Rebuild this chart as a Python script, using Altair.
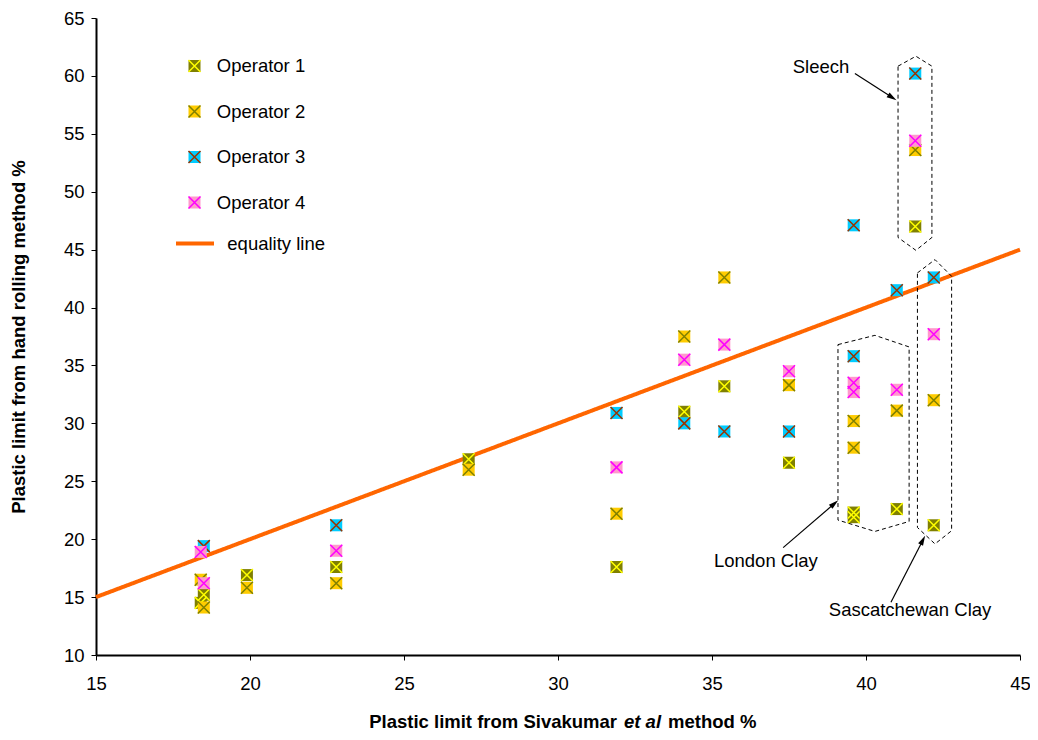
import math
import altair as alt
import pandas as pd

FONT = "Liberation Sans"
FS = 18.5

# ---------------- data ----------------
op_names = ["Operator 1", "Operator 2", "Operator 3", "Operator 4"]
op1_x = [18.4, 18.5, 19.9, 22.8, 27.1, 31.9, 34.1, 35.4, 37.5, 39.6, 39.6, 41.0, 41.6, 42.2]
op1_y = [14.5, 15.2, 16.9, 17.6, 26.9, 17.6, 31.0, 33.2, 26.6, 22.3, 21.9, 22.6, 47.0, 21.2]
op2_x = [18.4, 18.5, 19.9, 22.8, 27.1, 31.9, 34.1, 35.4, 37.5, 39.6, 39.6, 41.0, 41.6, 42.2]
op2_y = [16.5, 14.1, 15.8, 16.2, 26.0, 22.2, 37.5, 42.6, 33.3, 30.2, 27.9, 31.1, 53.6, 32.0]
op3_x = [18.5, 22.8, 31.9, 34.1, 35.4, 37.5, 39.6, 39.6, 41.0, 41.6, 42.2]
op3_y = [19.4, 21.2, 30.9, 30.0, 29.3, 29.3, 35.8, 47.1, 41.5, 60.2, 42.6]
op4_x = [18.4, 18.5, 22.8, 31.9, 34.1, 35.4, 37.5, 39.6, 39.6, 41.0, 41.6, 42.2]
op4_y = [18.9, 16.2, 19.0, 26.2, 35.5, 36.8, 34.5, 33.5, 32.7, 32.9, 54.4, 37.7]

fill_colors = ["#808000", "#FFCC00", "#00CCFF", "#FF99CC"]
cross_colors = ["#FFFF00", "#808000", "#993300", "#FF00FF"]

equality_name = ["equality line", "equality line"]
equality_x = [15, 45]
equality_y = [15, 45]

box_sleech_x = [41.04, 41.62, 42.14, 42.14, 41.62, 41.04, 41.04]
box_sleech_y = [60.84, 61.70, 60.84, 46.05, 44.94, 46.05, 60.84]
box_london_x = [39.09, 40.29, 41.40, 41.40, 40.29, 39.09, 39.09]
box_london_y = [36.80, 37.60, 36.60, 21.53, 20.67, 21.65, 36.80]
box_sask_x = [41.67, 42.24, 42.78, 42.78, 42.24, 41.67, 41.67]
box_sask_y = [42.99, 44.14, 42.70, 20.73, 19.59, 21.01, 42.99]

label_text = ["Sleech", "London Clay", "Sascatchewan Clay"]
label_x = [38.54, 36.75, 41.43]
label_y = [60.75, 18.15, 13.90]

arrow_x1 = [39.64, 37.31, 40.81]
arrow_y1 = [60.21, 19.27, 14.55]
arrow_x2 = [40.99, 39.10, 41.92]
arrow_y2 = [57.90, 23.36, 20.30]

x_ticks = [15, 20, 25, 30, 35, 40, 45]
y_ticks = [10, 15, 20, 25, 30, 35, 40, 45, 50, 55, 60, 65]

xtitle_parts = ["Plastic limit from Sivakumar", "et al", "method %"]
y_title = "Plastic limit from hand rolling method %"

# ---------------- layout constants ----------------
W, H = 924, 637
X_DOMAIN = [15, 45]
Y_DOMAIN = [10, 65]
XPATH = "M-1,-1L1,1M-1,1L1,-1"
HEADPATH = "M0,-1L0.55,1L-0.55,1Z"
HEAD_SIZE = 100
HEAD_HALF = math.sqrt(HEAD_SIZE) / 2

# ---------------- tables ----------------
rows = []
for name, xs, ys in zip(op_names, [op1_x, op2_x, op3_x, op4_x], [op1_y, op2_y, op3_y, op4_y]):
    for xv, yv in zip(xs, ys):
        rows.append({"x": xv, "y": yv, "op": name, "opx": name})
pts = pd.DataFrame(rows)

line_df = pd.DataFrame({"x": equality_x, "y": equality_y, "series": equality_name})

brows = []
for bname, bx, by in [("Sleech", box_sleech_x, box_sleech_y),
                      ("London", box_london_x, box_london_y),
                      ("Sask", box_sask_x, box_sask_y)]:
    for i, (xv, yv) in enumerate(zip(bx, by)):
        brows.append({"box": bname, "i": i, "x": xv, "y": yv})
box_df = pd.DataFrame(brows)

label_df = pd.DataFrame({"label": label_text, "x": label_x, "y": label_y})

sx = W / (X_DOMAIN[1] - X_DOMAIN[0])
sy = H / (Y_DOMAIN[1] - Y_DOMAIN[0])
arows = []
for x1, y1, x2, y2 in zip(arrow_x1, arrow_y1, arrow_x2, arrow_y2):
    dx = (x2 - x1) * sx
    dy = (y2 - y1) * sy
    ln = math.hypot(dx, dy)
    ux, uy = dx / ln, dy / ln
    hx = x2 - ux * HEAD_HALF / sx
    hy = y2 - uy * HEAD_HALF / sy
    ang = math.degrees(math.atan2(ux, uy)) % 360
    arows.append({"x": x1, "y": y1, "x2": hx, "y2": hy, "hx": hx, "hy": hy, "ang": ang})
arrow_df = pd.DataFrame(arows)

# ---------------- encodings ----------------
x_axis = alt.Axis(values=x_ticks, title=None, format="d", grid=False,
                  labelFont=FONT, labelFontSize=FS, labelColor="black",
                  labelPadding=14, labelFlush=False, labelOverlap=False,
                  tickSize=5, tickColor="black", tickWidth=1,
                  domainColor="black", domainWidth=2)
y_axis = alt.Axis(values=y_ticks, title=y_title, format="d", grid=False,
                  labelFont=FONT, labelFontSize=FS, labelColor="black",
                  labelPadding=7, labelFlush=False, labelOverlap=False,
                  tickSize=5, tickColor="black", tickWidth=1,
                  domainColor="black", domainWidth=2,
                  titleFont=FONT, titleFontSize=FS, titleFontWeight="bold",
                  titleColor="black", titleAngle=270, titleAlign="center",
                  titleBaseline="middle", titleX=-78, titleY=H / 2)
xs_ = alt.Scale(domain=X_DOMAIN, nice=False, zero=False)
ys_ = alt.Scale(domain=Y_DOMAIN, nice=False, zero=False)


def X(f):
    return alt.X(f, scale=xs_, axis=x_axis)


def Y(f):
    return alt.Y(f, scale=ys_, axis=y_axis)


# domains come from the data (sorted Operator 1..4)
fill_scale = alt.Scale(range=fill_colors)
stroke_scale = alt.Scale(range=cross_colors)

common_leg = dict(title=None, orient="none", legendX=89.25, legendY=38.75,
                  labelFont=FONT, labelFontSize=FS, labelColor="black",
                  labelOffset=13, rowPadding=26.5, padding=0, symbolSize=144,
                  symbolOpacity=1)
sq_legend = alt.Legend(symbolType="square", symbolStrokeWidth=0, labelOpacity=0,
                       zindex=0, **common_leg)
x_legend = alt.Legend(symbolType=XPATH, symbolStrokeWidth=1.5, zindex=1,
                      **common_leg)
line_legend = alt.Legend(title=None, orient="none", legendX=78, legendY=204.5,
                         symbolType="stroke", symbolSize=1444, symbolStrokeWidth=4,
                         symbolStrokeColor="#FF6600", labelFont=FONT, labelFontSize=FS,
                         labelColor="black", labelOffset=11.3, padding=0)

layers = []
layers.append(
    alt.Chart(line_df).mark_line(color="#FF6600", strokeWidth=4).encode(
        x=X("x:Q"), y=Y("y:Q"),
        strokeDash=alt.StrokeDash("series:N", scale=alt.Scale(range=[[1, 0]]), legend=line_legend),
    )
)

for name in op_names:
    base = alt.Chart(pts).transform_filter(alt.datum.op == name)
    layers.append(
        base.mark_point(shape="square", filled=True, size=144, opacity=1, strokeWidth=0).encode(
            x=X("x:Q"), y=Y("y:Q"),
            fill=alt.Fill("op:N", scale=fill_scale, legend=sq_legend),
        )
    )
    layers.append(
        base.mark_point(shape=XPATH, filled=False, size=144, opacity=1, strokeWidth=1.5).encode(
            x=X("x:Q"), y=Y("y:Q"),
            stroke=alt.Stroke("opx:N", scale=stroke_scale, legend=x_legend),
        )
    )

layers.append(
    alt.Chart(box_df).mark_line(color="black", strokeWidth=1, strokeDash=[4, 3]).encode(
        x=X("x:Q"), y=Y("y:Q"), detail="box:N", order="i:Q"
    )
)
layers.append(
    alt.Chart(arrow_df).mark_rule(color="black", strokeWidth=1.2).encode(
        x=X("x:Q"), y=Y("y:Q"), x2="x2:Q", y2="y2:Q"
    )
)
layers.append(
    alt.Chart(arrow_df).mark_point(shape=HEADPATH, filled=True, color="black",
                                   size=HEAD_SIZE, opacity=1).encode(
        x=X("hx:Q"), y=Y("hy:Q"), angle=alt.Angle("ang:Q", scale=None)
    )
)
layers.append(
    alt.Chart(label_df).mark_text(font=FONT, fontSize=FS, color="black",
                                  align="center", baseline="middle").encode(
        x=X("x:Q"), y=Y("y:Q"), text="label:N"
    )
)

# x-axis title with italic "et al"
t_df = pd.DataFrame({"t": xtitle_parts})
title_y = 704
layers.append(
    alt.Chart(t_df).transform_filter(alt.datum.t == xtitle_parts[0]).mark_text(
        font=FONT, fontSize=FS, fontWeight="bold", color="black",
        align="right", baseline="middle").encode(
        x=alt.value(521), y=alt.value(title_y), text="t:N")
)
layers.append(
    alt.Chart(t_df).transform_filter(alt.datum.t == xtitle_parts[1]).mark_text(
        font=FONT, fontSize=FS, fontWeight="bold", fontStyle="italic", color="black",
        align="left", baseline="middle").encode(
        x=alt.value(528), y=alt.value(title_y), text="t:N")
)
layers.append(
    alt.Chart(t_df).transform_filter(alt.datum.t == xtitle_parts[2]).mark_text(
        font=FONT, fontSize=FS, fontWeight="bold", color="black",
        align="left", baseline="middle").encode(
        x=alt.value(572), y=alt.value(title_y), text="t:N")
)

chart = alt.layer(*layers).properties(
    width=W, height=H,
    autosize=alt.AutoSizeParams(type="none"),
    padding={"left": 88, "top": 10, "right": 10, "bottom": 76},
).configure_view(stroke=None)

chart.save("out.html", embed_options={"renderer": "svg", "actions": False})
